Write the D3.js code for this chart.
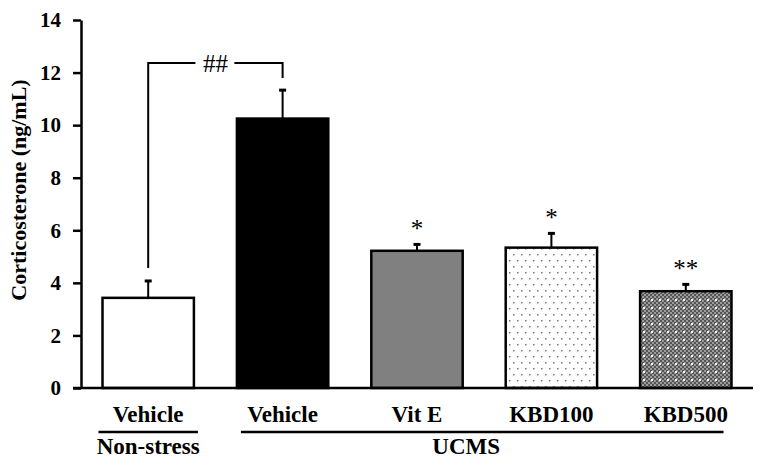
<!DOCTYPE html>
<html lang="en">
<head>
<meta charset="UTF-8">
<title>Corticosterone</title>
<script src="https://cdn.jsdelivr.net/npm/d3@7"></script>
<style>
    body { margin: 0; background: #fff; }
    text { font-family: "Liberation Serif", "Times New Roman", serif; fill: #000; }
    .tick-lbl { font-size: 21px; font-weight: bold; }
    .x-lbl { font-size: 23px; font-weight: bold; }
    .y-title { font-size: 22px; font-weight: bold; }
    .sig { font-size: 25px; }
</style>
</head>
<body>
<div id="chart"></div>
<script>
// data
var categories = ["Vehicle", "Vehicle", "Vit E", "KBD100", "KBD500"];
var means = [3.43, 10.25, 5.22, 5.34, 3.68];
var errors = [0.68, 1.12, 0.28, 0.58, 0.3];
var stars = ["", "", "*", "*", "**"];
var fills = ["#ffffff", "#000000", "#808080", "url(#dots)", "url(#checks)"];
var yTicks = [0, 2, 4, 6, 8, 10, 12, 14];
var groups = ["Non-stress", "UCMS"];
var groupStart = [0, 1];
var groupEnd = [0, 4];

var W = 765, H = 470;
var svg = d3.select("#chart").append("svg")
    .attr("width", W).attr("height", H);

var defs = svg.append("defs");
// light dotted fill
var dots = defs.append("pattern").attr("id", "dots")
    .attr("patternUnits", "userSpaceOnUse")
    .attr("width", 8).attr("height", 12);
dots.append("rect").attr("width", 8).attr("height", 12).attr("fill", "#fff");
dots.append("rect").attr("x", 1).attr("y", 2).attr("width", 1.5).attr("height", 1.5).attr("fill", "#777");
dots.append("rect").attr("x", 5).attr("y", 8).attr("width", 1.5).attr("height", 1.5).attr("fill", "#777");

// dark checkered fill
var checks = defs.append("pattern").attr("id", "checks")
    .attr("patternUnits", "userSpaceOnUse")
    .attr("width", 8).attr("height", 8);
checks.append("rect").attr("width", 8).attr("height", 8).attr("fill", "#9a9a9a");
for (var i = 0; i < 4; i++) {
    for (var j = 0; j < 4; j++) {
        if ((i + j) % 2 === 0) {
            checks.append("rect").attr("x", i * 2).attr("y", j * 2)
                .attr("width", 2).attr("height", 2).attr("fill", "#555");
        }
    }
}
checks.append("rect").attr("x", 3).attr("y", 3).attr("width", 2).attr("height", 2).attr("fill", "#f2f2f2");

var x = d3.scaleBand()
    .domain(d3.range(categories.length))
    .range([81, 753])
    .paddingInner(0.32)
    .paddingOuter(0.16);

var y = d3.scaleLinear()
    .domain([0, 14])
    .range([388, 20]);

// bars
svg.append("g").selectAll("rect")
    .data(means)
    .enter().append("rect")
    .attr("x", function(d, i) { return x(i); })
    .attr("y", function(d) { return y(d); })
    .attr("width", x.bandwidth())
    .attr("height", function(d) { return y(0) - y(d); })
    .attr("fill", function(d, i) { return fills[i]; })
    .attr("stroke", "#000")
    .attr("stroke-width", 2.5);

// error bars
var eb = svg.append("g");
means.forEach(function(m, i) {
    var cx = x(i) + x.bandwidth() / 2;
    eb.append("line")
        .attr("x1", cx).attr("x2", cx)
        .attr("y1", y(m)).attr("y2", y(m + errors[i]))
        .attr("stroke", "#000").attr("stroke-width", 2);
    eb.append("line")
        .attr("x1", cx - 3.5).attr("x2", cx + 3.5)
        .attr("y1", y(m + errors[i]) + 1).attr("y2", y(m + errors[i]) + 1)
        .attr("stroke", "#000").attr("stroke-width", 3);
    if (stars[i]) {
        svg.append("text").attr("class", "sig")
            .attr("x", cx).attr("y", y(m + errors[i]) - 6)
            .attr("text-anchor", "middle")
            .text(stars[i]);
    }
});

// ## bracket between non-stress and UCMS vehicle
var c0 = x(0) + x.bandwidth() / 2, c1 = x(1) + x.bandwidth() / 2;
var by = 63, mid = (c0 + c1) / 2;
var br = svg.append("g").attr("fill", "none").attr("stroke", "#000").attr("stroke-width", 2);
br.append("path").attr("d", "M" + c0 + "," + (y(means[0] + errors[0]) - 12) + "V" + by + "H" + (mid - 20));
br.append("path").attr("d", "M" + (mid + 19) + "," + by + "H" + c1 + "V" + (by + 15));
svg.append("text").attr("class", "sig")
    .attr("x", mid).attr("y", by + 9)
    .attr("text-anchor", "middle")
    .text("##");

// axes
var yAxis = svg.append("g")
    .attr("transform", "translate(81,0)")
    .call(d3.axisLeft(y).tickValues(yTicks).tickSize(8).tickSizeOuter(0).tickPadding(12));
yAxis.select(".domain").attr("stroke-width", 2.5);
yAxis.selectAll(".tick line").attr("stroke-width", 2.5);
yAxis.selectAll(".tick text").attr("class", "tick-lbl").attr("font-family", null).attr("font-size", null);

svg.append("line")
    .attr("x1", 73).attr("x2", 753)
    .attr("y1", y(0)).attr("y2", y(0))
    .attr("stroke", "#000").attr("stroke-width", 2.5);

svg.append("text").attr("class", "y-title")
    .attr("transform", "translate(25.5,190) rotate(-90)")
    .attr("text-anchor", "middle")
    .text("Corticosterone (ng/mL)");

// category labels
svg.append("g").selectAll("text")
    .data(categories)
    .enter().append("text")
    .attr("class", "x-lbl")
    .attr("x", function(d, i) { return x(i) + x.bandwidth() / 2; })
    .attr("y", 422)
    .attr("text-anchor", "middle")
    .text(function(d) { return d; });

// group underlines and names
groups.forEach(function(g, k) {
    var x0 = x(groupStart[k]), x1 = x(groupEnd[k]) + x.bandwidth();
    if (k === 0) { x0 -= 4; x1 += 4; } else { x0 += 4; x1 -= 8; }
    svg.append("line")
        .attr("x1", x0).attr("x2", x1)
        .attr("y1", 432).attr("y2", 432)
        .attr("stroke", "#000").attr("stroke-width", 2.5);
    svg.append("text").attr("class", "x-lbl")
        .attr("x", k === 0 ? (x0 + x1) / 2 : (x0 + x1) / 2 - 16)
        .attr("y", 454)
        .attr("text-anchor", "middle")
        .text(g);
});
</script>
</body>
</html>
